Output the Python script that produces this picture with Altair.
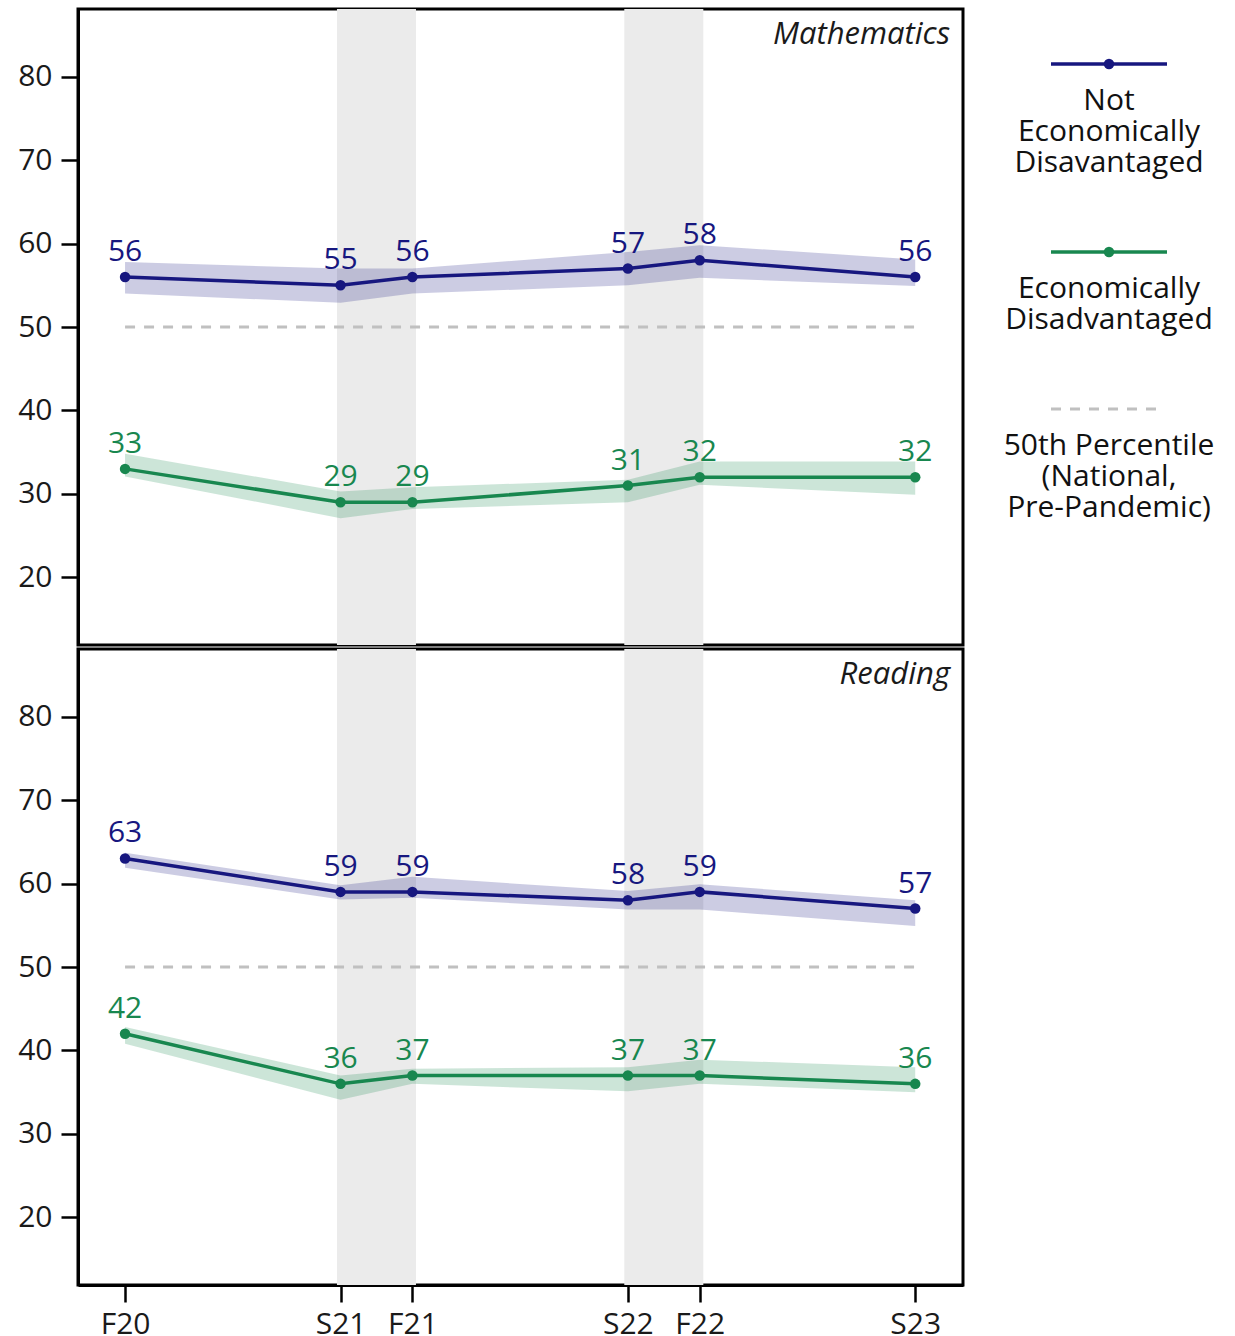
import altair as alt
import pandas as pd

# ---- data -----------------------------------------------------------------
terms = ["F20", "S21", "F21", "S22", "F22", "S23"]
term_month = [0, 6, 8, 14, 16, 22]          # months after the fall 2020 test window

series_names = ["Not Economically Disadvantaged", "Economically Disadvantaged"]
series_colors = ["#17177f", "#18874f"]

# median percentile with the shaded uncertainty band (lo / hi)
math_not_ed = [56, 55, 56, 57, 58, 56]
math_not_ed_lo = [54.0, 52.9, 54.0, 55.0, 55.9, 54.9]
math_not_ed_hi = [57.8, 57.0, 57.0, 59.0, 59.8, 58.1]
math_ed = [33, 29, 29, 31, 32, 32]
math_ed_lo = [32.1, 27.1, 28.2, 29.0, 31.1, 29.9]
math_ed_hi = [34.8, 30.3, 30.8, 31.7, 33.9, 33.9]

read_not_ed = [63, 59, 59, 58, 59, 57]
read_not_ed_lo = [61.9, 58.1, 58.3, 56.9, 56.9, 54.9]
read_not_ed_hi = [63.7, 59.8, 60.8, 59.1, 59.9, 58.0]
read_ed = [42, 36, 37, 37, 37, 36]
read_ed_lo = [40.8, 34.1, 36.0, 35.1, 36.0, 35.0]
read_ed_hi = [42.8, 37.0, 37.8, 38.0, 38.9, 38.0]

national_median = 50
shaded_windows = [("S21", "F21"), ("S22", "F22")]

FONT = "Open Sans"
W, H = 885, 636
X_DOMAIN = [-1.31, 23.33]
Y_DOMAIN = [11.9, 88.1]


def panel_frame(groups):
    rows = []
    for name, (mid, lo, hi) in zip(series_names, groups):
        for t, m, v, l, h in zip(terms, term_month, mid, lo, hi):
            rows.append(dict(series=name, term=t, month=m, value=v, lo=l, hi=h))
    return pd.DataFrame(rows)


month_of = dict(zip(terms, term_month))
windows_df = pd.DataFrame(
    {"start": [month_of[a] for a, _ in shaded_windows],
     "end": [month_of[b] for _, b in shaded_windows]}
)
median_df = pd.DataFrame(
    {"start": [term_month[0]], "end": [term_month[-1]], "pct": [national_median]}
)

label_expr = " : ".join(f"datum.value == {m} ? '{t}'" for t, m in zip(terms, term_month)) + " : ''"

xs = alt.Scale(domain=X_DOMAIN, nice=False, zero=False)
ys = alt.Scale(domain=Y_DOMAIN, nice=False, zero=False)
y_axis = alt.Axis(values=list(range(20, 90, 10)), title=None, tickSize=17,
                  labelPadding=9, grid=False)
color = alt.Color("series:N", scale=alt.Scale(domain=series_names, range=series_colors),
                  legend=None)


def panel(subject, frame, show_x):
    if show_x:
        x_axis = alt.Axis(values=term_month, labelExpr=label_expr, title=None,
                          tickSize=17, labelPadding=7, grid=False)
    else:
        x_axis = None

    def X(field):
        return alt.X(field, type="quantitative", scale=xs, axis=x_axis)

    def Y(field):
        return alt.Y(field, type="quantitative", scale=ys, axis=y_axis)

    windows = alt.Chart(windows_df).transform_calculate(
        lo="datum.start - 0.1", hi="datum.end + 0.1"
    ).mark_rect(color="#ebebeb").encode(
        x=X("lo"), x2="hi:Q", y=alt.value(0), y2=alt.value(H)
    )
    median = alt.Chart(median_df).mark_rule(
        color="#c0c0c0", strokeWidth=3, strokeDash=[10, 9]
    ).encode(x=X("start"), x2="end:Q", y=Y("pct"))

    base = alt.Chart(frame)
    band = base.mark_area(opacity=0.22).encode(x=X("month"), y=Y("lo"), y2="hi:Q", color=color)
    line = base.mark_line(strokeWidth=3.5).encode(x=X("month"), y=Y("value"), color=color,
                                                  order="month:Q")
    dots = base.mark_circle(size=110, opacity=1).encode(x=X("month"), y=Y("value"), color=color)
    labels = base.mark_text(dy=-16, baseline="alphabetic", fontSize=30, font=FONT).encode(
        x=X("month"), y=Y("value"), text="value:Q", color=color
    )
    title = alt.Chart(pd.DataFrame({"subject": [subject]})).mark_text(
        align="right", baseline="alphabetic", fontSize=31, fontStyle="italic",
        font=FONT, color="#1a1a1a"
    ).encode(x=alt.value(W - 13), y=alt.value(35), text="subject:N")

    return alt.layer(windows, median, band, line, dots, labels, title).properties(
        width=W, height=H
    )


math_panel = panel(
    "Mathematics",
    panel_frame([(math_not_ed, math_not_ed_lo, math_not_ed_hi),
                 (math_ed, math_ed_lo, math_ed_hi)]),
    show_x=False,
)
read_panel = panel(
    "Reading",
    panel_frame([(read_not_ed, read_not_ed_lo, read_not_ed_hi),
                 (read_ed, read_ed_lo, read_ed_hi)]),
    show_x=True,
)

# ---- stacked key to the right -------------------------------------------
legend_entries = [
    ("solid", series_colors[0], ["Not", "Economically", "Disavantaged"]),
    ("solid", series_colors[1], ["Economically", "Disadvantaged"]),
    ("dashed", "#c0c0c0", ["50th Percentile", "(National,", "Pre-Pandemic)"]),
]
LW, LH = 240, 530
CX = 122            # horizontal centre of the key
HALF = 58           # half length of the key swatches
sym_rows, dot_rows, text_rows = [], [], []
y = 55
for style, col, lines in legend_entries:
    half_right = HALF if style == "solid" else HALF - 7
    sym_rows.append(dict(x0=CX - HALF, x1=CX + half_right, y=y, color=col, style=style))
    if style == "solid":
        dot_rows.append(dict(x=CX, y=y, color=col))
    base_y = y + 46
    for k, txt in enumerate(lines):
        text_rows.append(dict(x=CX, y=base_y + 31 * k, text=txt))
    y = base_y + 31 * (len(lines) - 1) + 80

lx = alt.Scale(domain=[0, LW], range=[0, LW], nice=False, zero=False)
ly = alt.Scale(domain=[0, LH], range=[0, LH], nice=False, zero=False)
sym_df = pd.DataFrame(sym_rows)

key_solid = alt.Chart(sym_df[sym_df["style"] == "solid"]).mark_rule(strokeWidth=3.5).encode(
    x=alt.X("x0:Q", scale=lx, axis=None), x2="x1:Q",
    y=alt.Y("y:Q", scale=ly, axis=None), color=alt.Color("color:N", scale=None)
)
key_dashed = alt.Chart(sym_df[sym_df["style"] == "dashed"]).mark_rule(
    strokeWidth=3, strokeDash=[10, 9]
).encode(
    x=alt.X("x0:Q", scale=lx, axis=None), x2="x1:Q",
    y=alt.Y("y:Q", scale=ly, axis=None), color=alt.Color("color:N", scale=None)
)
key_dots = alt.Chart(pd.DataFrame(dot_rows)).mark_circle(size=110, opacity=1).encode(
    x=alt.X("x:Q", scale=lx, axis=None), y=alt.Y("y:Q", scale=ly, axis=None),
    color=alt.Color("color:N", scale=None)
)
key_text = alt.Chart(pd.DataFrame(text_rows)).mark_text(
    fontSize=30, font=FONT, baseline="alphabetic", align="center", color="#111111"
).encode(
    x=alt.X("x:Q", scale=lx, axis=None), y=alt.Y("y:Q", scale=ly, axis=None), text="text:N"
)
key = alt.layer(key_solid, key_dashed, key_dots, key_text).properties(
    width=LW, height=LH, view=alt.ViewBackground(stroke="transparent")
)

chart = alt.hconcat(
    alt.vconcat(math_panel, read_panel, spacing=0),
    key,
    spacing=20,
).properties(
    padding={"left": 16, "top": 7, "right": 0, "bottom": 0},
    background="white",
).configure_view(
    stroke="black", strokeWidth=3
).configure_axis(
    labelFont=FONT, labelFontSize=30, labelColor="#1a1a1a",
    tickColor="black", tickWidth=2.5, domainColor="black", domainWidth=3,
)

chart.save("out.html", embed_options={"renderer": "svg", "actions": False})
